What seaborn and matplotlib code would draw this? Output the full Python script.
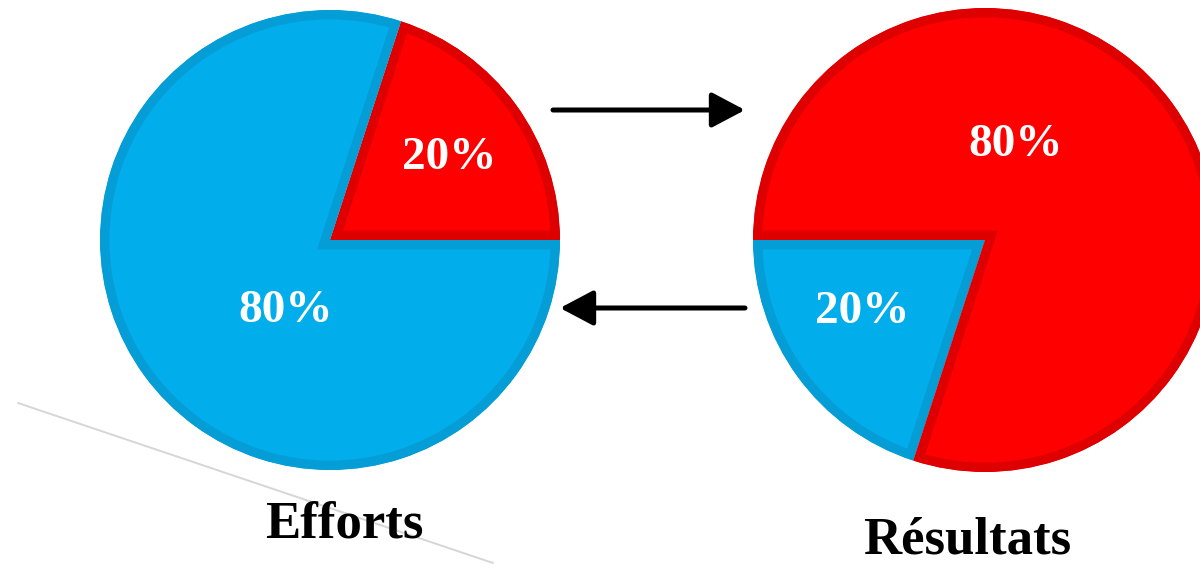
import matplotlib
matplotlib.use("Agg")
import matplotlib.pyplot as plt
import seaborn as sns

# Pareto 80/20 principle: efforts vs results
effort_labels = ["Efforts critiques", "Autres efforts"]
effort_values = [20, 80]
result_labels = ["Autres résultats", "Résultats clés"]
result_values = [20, 80]
titles = ["Efforts", "Résultats"]

sns.set_theme(style="white")
plt.rcParams["font.family"] = ["Liberation Serif", "DejaVu Serif"]

RED, RED_EDGE = "#ff0000", "#de0000"
BLUE, BLUE_EDGE = "#02adec", "#049dd5"

W, H = 1200, 564
fig = plt.figure(figsize=(W / 100, H / 100), dpi=100)
ax = fig.add_axes([0, 0, 1, 1])
ax.set_xlim(0, W)
ax.set_ylim(0, H)
ax.set_aspect("equal")
ax.axis("off")

# thin grey diagonal behind everything
ax.plot([18, 493], [H - 403, H - 563], color="#d6d6d6", lw=1.4, zorder=0)


def draw_pie(values, colors, edges, center, radius, start, label_pos):
    wedges, _ = ax.pie(values, colors=colors, startangle=start, counterclock=True,
                       center=center, radius=radius, frame=True)
    for w, ec in zip(wedges, edges):
        w.set_edgecolor(ec)
        w.set_linewidth(13.5)
        w.set_zorder(2)
        # keep only the inner half of the stroke
        w.set_clip_on(True)
        w.set_clip_path(w.get_path(), w.get_transform())
    for v, (x, y) in zip(values, label_pos):
        ax.text(x, H - y, f"{v}%", color="white", fontsize=34, fontweight="bold",
                ha="center", va="center", zorder=5)


draw_pie(effort_values, [RED, BLUE], [RED_EDGE, BLUE_EDGE], (330, H - 240), 230, 0,
         [(449, 158), (286, 311)])
draw_pie(result_values, [BLUE, RED], [BLUE_EDGE, RED_EDGE], (985, H - 240), 232, 180,
         [(862, 312), (1016, 145)])

ax.set_xlim(0, W)
ax.set_ylim(0, H)
ax.set_aspect("equal")
ax.axis("off")

# arrows between the two pies
arrow_kw = dict(arrowstyle="-|>,head_length=1.7,head_width=0.9", color="black", lw=3.6,
                shrinkA=0, shrinkB=0)
ax.annotate("", xy=(745, H - 110), xytext=(553, H - 110), arrowprops=arrow_kw)
ax.annotate("", xy=(560, H - 308), xytext=(745, H - 308), arrowprops=arrow_kw)

ax.text(344, H - 525, titles[0], fontsize=38, fontweight="bold", ha="center", va="center",
        color="black")
ax.text(967, H - 540, titles[1], fontsize=38, fontweight="bold", ha="center", va="center",
        color="black")

fig.savefig("out.png", dpi=100, facecolor="white")
